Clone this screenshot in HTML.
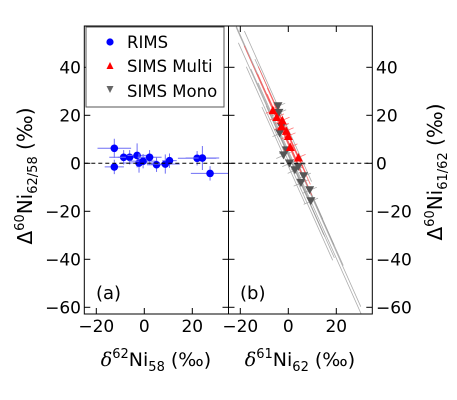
<!DOCTYPE html>
<html><head><meta charset="utf-8">
<style>
html,body{margin:0;padding:0;background:#fff;}
svg{display:block;font-family:"DejaVu Sans","Liberation Sans",sans-serif;}
</style></head>
<body>
<svg id="chart" width="457" height="400" viewBox="0 0 457 400" xmlns="http://www.w3.org/2000/svg">
<g id="marks"></g>
<g id="frame"></g>
</svg>
<script>
// ---- data ----
const rimsX = [-12.5, -12.5, -8.6, -6.1, -3.0, -2.2, -0.5, 2.2, 5.1, 8.75, 10.5, 22.0, 24.2, 27.4];
const rimsY = [6.25, -1.5, 2.5, 2.5, 3.3, 0.1, 0.9, 2.5, -0.6, -0.3, 1.1, 2.1, 2.2, -4.2];
const rimsXErr = [7, 4, 6, 5, 4, 8, 6, 5, 4, 6, 3, 8, 7, 8];
const rimsYErr = [4, 3, 3, 3, 5, 4, 3, 3, 3, 4, 3, 3, 5, 3];
const multiX = [-6.4, -4.8, -2.5, -2.8, -0.8, 0.0, 0.8, 4.2];
const multiY = [22.1, 19.3, 17.9, 15.4, 13.5, 11.4, 6.8, 2.4];
const multiErr = [12, 8, 10, 6, 8, 6, 9, 5];
const monoX = [-4.3, -3.9, -3.6, -2.9, -2.0, -0.8, 0.5, 2.75, 4.2, 5.25, 6.4, 8.9, 9.4];
const monoY = [23.75, 21.0, 12.4, 15.1, 3.3, 5.4, -0.1, -2.9, -1.5, -8.2, -5.4, -11.25, -15.8];
const monoErr = [14, 10, 12, 22, 9, 20, 18, 12, 26, 10, 8, 14, 22];
const slope = -2.24;
const yTicks = [40, 20, 0, -20, -40, -60];
const xTicks = [-20, 0, 20];

// ---- axes ----
const yTop = 26, yBot = 314;
const yS = v => 163.3 - v * 2.4;
const xA = v => 144.3 + v * 2.4;
const xB = v => 288.3 + v * 2.4;
const L1 = 84.3, R1 = 228.5, R2 = 372.3;
const NS = "http://www.w3.org/2000/svg";
const marks = document.getElementById('marks');
const frame = document.getElementById('frame');
function el(tag, attrs, parent, text) {
  const e = document.createElementNS(NS, tag);
  for (const k in attrs) e.setAttribute(k, attrs[k]);
  if (text !== undefined) e.textContent = text;
  parent.appendChild(e);
  return e;
}
const defs = el('defs', {}, marks);
const cA = el('clipPath', {id: 'ca'}, defs); el('rect', {x: L1, y: yTop, width: R1 - L1, height: yBot - yTop}, cA);
const cB = el('clipPath', {id: 'cb'}, defs); el('rect', {x: R1, y: yTop, width: R2 - R1, height: yBot - yTop}, cB);
const gA = el('g', {'clip-path': 'url(#ca)'}, marks);
const gB = el('g', {'clip-path': 'url(#cb)'}, marks);

const zl = el('line', {x1: L1, x2: R2, y1: yS(0), y2: yS(0), stroke: '#000', 'stroke-width': 1, 'stroke-dasharray': '4,3'}, marks);



rimsX.forEach((x, i) => {
  const y = rimsY[i];
  const g = el('g', {}, gA);
  
  
  el('line', {x1: xA(x - rimsXErr[i]), x2: xA(x + rimsXErr[i]), y1: yS(y), y2: yS(y), stroke: '#6f6ff5', 'stroke-width': 1}, g);
  el('line', {x1: xA(x), x2: xA(x), y1: yS(y - rimsYErr[i]), y2: yS(y + rimsYErr[i]), stroke: '#6f6ff5', 'stroke-width': 1}, g);
  el('circle', {cx: xA(x), cy: yS(y), r: 3.8, fill: '#0000ff'}, g);
});

function corr(xs, ys, errs, col, name) {
  xs.forEach((x, i) => {
    const y = ys[i], e = errs[i];
    const l = el('line', {x1: xB(x - e), y1: yS(y - slope * e), x2: xB(x + e), y2: yS(y + slope * e), stroke: col, 'stroke-width': 0.8, opacity: 0.8}, gB);
    
    
    const c = el('line', {x1: xB(x - 3), y1: yS(y - 1.3), x2: xB(x + 3), y2: yS(y + 1.3), stroke: col, 'stroke-width': 0.8, opacity: 0.8}, gB);
    
    
  });
}
corr(monoX, monoY, monoErr, '#999', 'sims-mono-error');
corr(multiX, multiY, multiErr, '#f55', 'sims-multi-error');
monoX.forEach((x, i) => {
  const px = xB(x), py = yS(monoY[i]);
  const p = el('polygon', {points: `${px-4.5},${py-4} ${px+4.5},${py-4} ${px},${py+4}`, fill: '#555'}, gB);
  
  
});
multiX.forEach((x, i) => {
  const px = xB(x), py = yS(multiY[i]);
  const p = el('polygon', {points: `${px-4.5},${py+4} ${px+4.5},${py+4} ${px},${py-4.5}`, fill: '#ff0000'}, gB);
  
  
});

[[L1, R1, 'panel-a-frame'], [R1, R2, 'panel-b-frame']].forEach(([a, b, n]) => {
  const r = el('rect', {x: a, y: yTop, width: b - a, height: yBot - yTop, fill: 'none', stroke: '#000', 'stroke-width': 1}, frame);
  
  
});
yTicks.forEach(v => {
  const y = yS(v);
  [[L1, 1], [R1, -1], [R1, 1], [R2, -1]].forEach(([x, d]) => el('line', {x1: x, x2: x + d * 6, y1: y, y2: y, stroke: '#000'}, frame));
  const lab = v < 0 ? '\u2212' + (-v) : '' + v;
  const t1 = el('text', {x: 81, y: y + 6, 'text-anchor': 'end', 'font-size': 17}, frame, lab);
  
  
  const t2 = el('text', {x: 376, y: y + 6, 'text-anchor': 'start', 'font-size': 17}, frame, lab);
  
  
});
xTicks.forEach(v => {
  [xA, xB].forEach(f => {
    const x = f(v);
    el('line', {x1: x, x2: x, y1: yTop, y2: yTop + 6, stroke: '#000'}, frame);
    el('line', {x1: x, x2: x, y1: yBot, y2: yBot - 6, stroke: '#000'}, frame);
    const t = el('text', {x: x, y: 332, 'text-anchor': 'middle', 'font-size': 17}, frame, v < 0 ? '\u2212' + (-v) : '' + v);
    
    
  });
});
</script>
<svg style="position:absolute;left:0;top:0" width="457" height="400" xmlns="http://www.w3.org/2000/svg" font-family="DejaVu Sans, Liberation Sans, sans-serif">
  <g>
    <rect x="86" y="27" width="138" height="80" fill="#fff" stroke="#555" stroke-width="1"/>
    <circle cx="110" cy="42" r="3.6" fill="#0000ff"/>
    <text x="127" y="48" font-size="16.5">RIMS</text>
    <polygon points="106.5,69 113.5,69 110,62" fill="#ff0000"/>
    <text x="127" y="72" font-size="16.5">SIMS Multi</text>
    <polygon points="106.5,86 113.5,86 110,93" fill="#666"/>
    <text x="127" y="97" font-size="16.5">SIMS Mono</text>
  </g>
  <text x="96" y="299" font-size="18">(a)</text>
  <text x="240" y="299" font-size="18">(b)</text>
  <text x="156" y="366" font-size="19" text-anchor="middle"><tspan font-family="DejaVu Serif, serif" font-style="italic">δ</tspan><tspan font-size="13" dy="-8">62</tspan><tspan dy="8">Ni</tspan><tspan font-size="13" dy="5">58</tspan><tspan dy="-5"> (‰)</tspan></text>
  <text x="300" y="366" font-size="19" text-anchor="middle"><tspan font-family="DejaVu Serif, serif" font-style="italic">δ</tspan><tspan font-size="13" dy="-8">61</tspan><tspan dy="8">Ni</tspan><tspan font-size="13" dy="5">62</tspan><tspan dy="-5"> (‰)</tspan></text>
  <text transform="translate(32,176) rotate(-90)" font-size="20" text-anchor="middle">Δ<tspan font-size="13" dy="-8">60</tspan><tspan dy="8">Ni</tspan><tspan font-size="13" dy="5">62/58</tspan><tspan dy="-5"> (‰)</tspan></text>
  <text transform="translate(442,172) rotate(-90)" font-size="20" text-anchor="middle">Δ<tspan font-size="13" dy="-8">60</tspan><tspan dy="8">Ni</tspan><tspan font-size="13" dy="5">61/62</tspan><tspan dy="-5"> (‰)</tspan></text>
</svg>
</body></html>
